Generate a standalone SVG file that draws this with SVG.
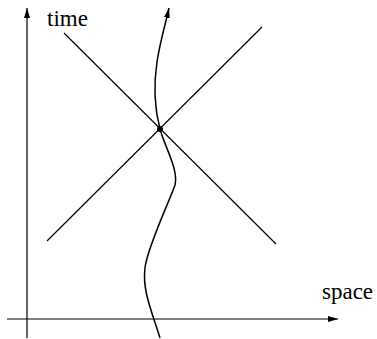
<svg xmlns="http://www.w3.org/2000/svg" width="377" height="339" viewBox="0 0 377 339">
<defs>
<marker id="ah" viewBox="0 0 10 6" refX="10" refY="3" markerWidth="10" markerHeight="6" markerUnits="userSpaceOnUse" orient="auto">
<path d="M0,0 L10,3 L0,6 Z" fill="#000"/>
</marker>
<style>
.ln{stroke:#000;stroke-width:1.2;fill:none}
.lbl{font-family:"Liberation Serif",serif;font-size:23px;fill:#000}
</style>
</defs>
<rect width="377" height="339" fill="#fff"/>
<g id="connectors">
<line id="time-axis" class="ln" x1="27" y1="338" x2="27" y2="8" marker-end="url(#ah)"/>
<line id="space-axis" class="ln" x1="7" y1="319" x2="338" y2="319" marker-end="url(#ah)"/>
<line id="cone1" class="ln" x1="64" y1="33" x2="276" y2="244"/>
<line id="cone2" class="ln" x1="262" y1="27" x2="47" y2="241"/>
<path id="worldline" class="ln" style="stroke-width:1.5" d="M160,338 C152,312 142,290 145,268 C147,248 170,200 175,185 C179,170 164,145 160,129 C155,110 153,88 157,62 C160,42 165,26 169,8" marker-end="url(#ah)"/>
</g>
<g id="event"><circle cx="160" cy="129" r="3" fill="#000"/></g>
<g id="label-time"><text class="lbl" x="47" y="26">time</text></g>
<g id="label-space"><text class="lbl" x="322" y="299">space</text></g>
</svg>
